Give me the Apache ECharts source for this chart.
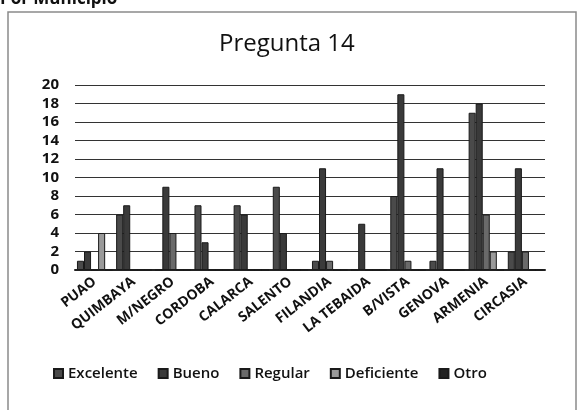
<!DOCTYPE html>
<html>
<head>
<meta charset="utf-8">
<script src="https://cdn.jsdelivr.net/npm/echarts@6/dist/echarts.min.js"></script>
<style>
html, body { margin: 0; padding: 0; background: #fff; }
#main { width: 580px; height: 410px; }
</style>
</head>
<body>
<div id="main"></div>
<script>
var municipios = ["PUAO", "QUIMBAYA", "M/NEGRO", "CORDOBA", "CALARCA", "SALENTO", "FILANDIA", "LA TEBAIDA", "B/VISTA", "GENOVA", "ARMENIA", "CIRCASIA"];
var excelente = [1, 6, 0, 7, 7, 9, 1, 0, 8, 1, 17, 2];
var bueno = [2, 7, 9, 3, 6, 4, 11, 5, 19, 11, 18, 11];
var regular = [0, 0, 4, 0, 0, 0, 1, 0, 1, 0, 6, 2];
var deficiente = [4, 0, 0, 0, 0, 0, 0, 0, 0, 0, 2, 0];
var otro = [0, 0, 0, 0, 0, 0, 0, 0, 0, 0, 0, 0];
var yTicks = [0, 20, 2];

var font = "Open Sans";
var chart = echarts.init(document.getElementById("main"));

function serie(name, data, color) {
  return {
    name: name,
    type: "bar",
    data: data,
    barGap: "0%",
    barCategoryGap: "10%",
    itemStyle: { color: color, borderColor: "#1a1a1a", borderWidth: 1 }
  };
}

chart.setOption({
  animation: false,
  textStyle: { fontFamily: font },
  title: {
    text: "Pregunta 14",
    left: 214,
    top: 27,
    textStyle: { fontFamily: font, fontSize: 24, fontWeight: 500, color: "#111" }
  },
  graphic: [
    {
      type: "rect",
      shape: { x: 8, y: 12, width: 568, height: 410 },
      style: { fill: null, stroke: "#8a8a8a", lineWidth: 1.5 }
    },
    {
      type: "text",
      left: 0,
      top: -9,
      style: { text: "Por Municipio", font: "bold 17px Open Sans", fill: "#111" }
    }
  ],
  legend: {
    bottom: 24,
    left: 48,
    itemWidth: 9,
    itemHeight: 9,
    itemGap: 20,
    icon: "rect",
    textStyle: { fontFamily: font, fontSize: 15, fontWeight: 600, color: "#111" }
  },
  grid: { left: 75, right: 35, top: 85, bottom: 140 },
  xAxis: {
    type: "category",
    data: municipios,
    axisTick: { show: false },
    axisLine: { lineStyle: { color: "#222", width: 2 } },
    axisLabel: {
      rotate: 38,
      interval: 0,
      margin: 10,
      fontFamily: font,
      fontSize: 14,
      fontWeight: "bold",
      color: "#111"
    }
  },
  yAxis: {
    type: "value",
    min: yTicks[0],
    max: yTicks[1],
    interval: yTicks[2],
    axisLine: { show: false },
    axisTick: { show: false },
    axisLabel: { fontFamily: font, fontSize: 15, fontWeight: "bold", color: "#111", margin: 16 },
    splitLine: { lineStyle: { color: "#333", width: 1.2 } }
  },
  series: [
    serie("Excelente", excelente, "#4a4a4a"),
    serie("Bueno", bueno, "#3a3a3a"),
    serie("Regular", regular, "#6a6a6a"),
    serie("Deficiente", deficiente, "#9a9a9a"),
    serie("Otro", otro, "#222")
  ]
});
</script>
</body>
</html>
